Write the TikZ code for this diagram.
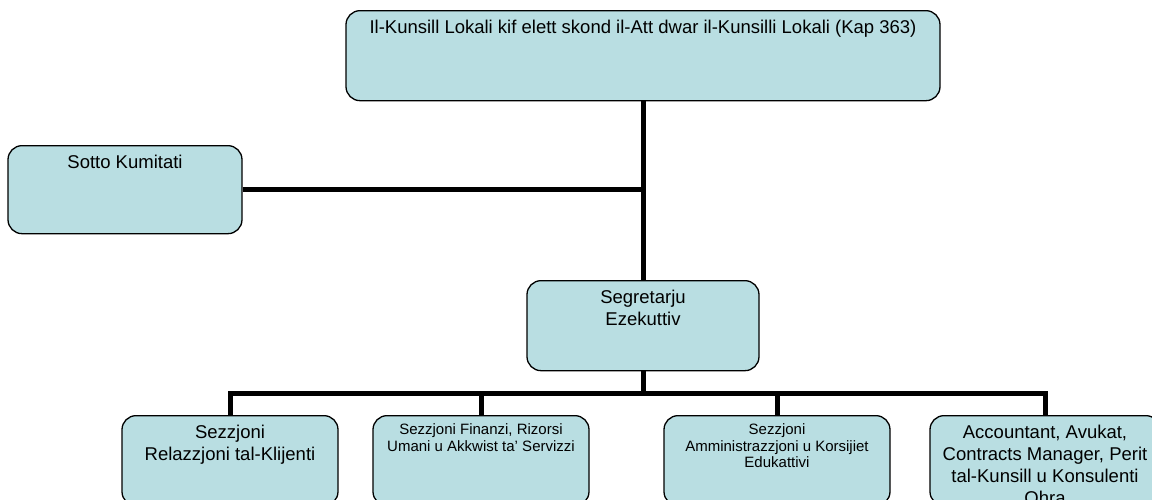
\documentclass[tikz,border=0pt]{standalone}
\usepackage{fontspec}
\setmainfont{Liberation Sans}
\definecolor{boxfill}{RGB}{185,222,226}
\newcommand{\boxtext}[5]{\parbox[c][#1][t]{#2}{\centering\fontsize{#3}{#4}\selectfont\strut #5\par}}

\begin{document}
\begin{tikzpicture}[x=1pt,y=-1pt]
\tikzset{
  orgbox/.style={draw=black, line width=1.3pt, fill=boxfill, rounded corners=14pt,
    anchor=north, inner xsep=4pt, inner ysep=7.6pt},
  bar/.style={line width=5pt},
}
\useasboundingbox (0,0) rectangle (1152,499);

% boxes
\node[orgbox] (kunsill) at (643,10) {\boxtext{74.8pt}{586pt}{18.5pt}{22pt}{Il-Kunsill Lokali kif elett skond il-Att dwar il-Kunsilli Lokali (Kap 363)}};
\node[orgbox] (sotto) at (125,145) {\boxtext{72.8pt}{226pt}{18.5pt}{22pt}{Sotto Kumitati}};
\node[orgbox] (segretarju) at (643,280) {\boxtext{74.8pt}{224pt}{18.5pt}{22pt}{Segretarju\\Ezekuttiv}};
\node[orgbox] (klijenti) at (230,415) {\boxtext{74.8pt}{208pt}{18.5pt}{22pt}{Sezzjoni\\Relazzjoni tal-Klijenti}};
\node[orgbox] (finanzi) at (481,415) {\boxtext{74.8pt}{208pt}{15pt}{16.5pt}{Sezzjoni Finanzi, Rizorsi\\Umani u Akkwist ta' Servizzi}};
\node[orgbox] (amm) at (777,415) {\boxtext{74.8pt}{218pt}{15pt}{16.5pt}{Sezzjoni\\Amministrazzjoni u Korsijiet\\Edukattivi}};
\node[orgbox] (ohra) at (1045,415) {\boxtext{74.8pt}{222pt}{18.5pt}{22pt}{Accountant, Avukat,\\Contracts Manager, Perit\\tal-Kunsill u Konsulenti\\Ohra}};

% lines
\coordinate (bus) at (643,393);
\draw[bar] (kunsill.south) -- (segretarju.north);
\draw[bar] (sotto.east) -- (sotto.east -| kunsill.south);
\draw[bar] (segretarju.south) -- (bus);
\draw[bar] (klijenti.north) -- (klijenti.north |- bus) -- (ohra.north |- bus) -- (ohra.north);
\draw[bar] (finanzi.north) -- (finanzi.north |- bus);
\draw[bar] (amm.north) -- (amm.north |- bus);
\end{tikzpicture}
\end{document}
